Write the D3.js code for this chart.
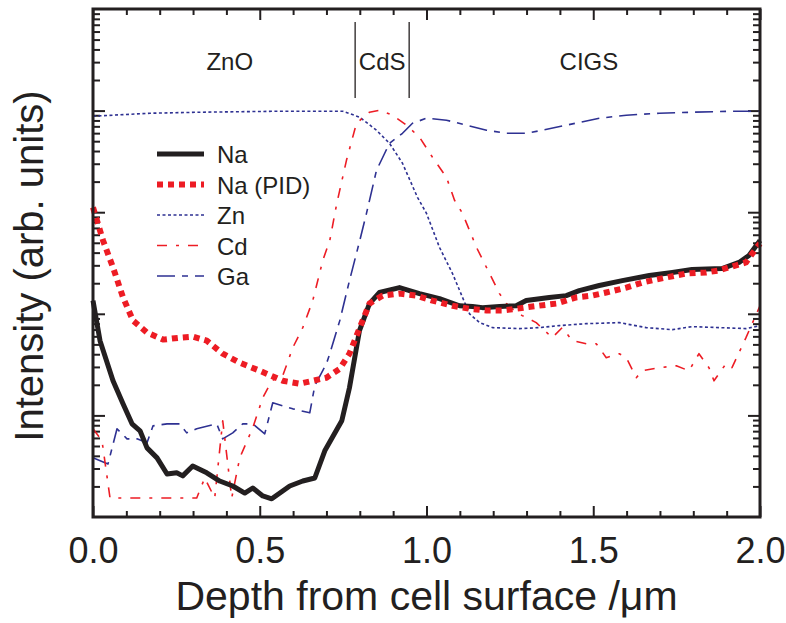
<!DOCTYPE html>
<html>
<head>
<meta charset="utf-8">
<script src="https://cdn.jsdelivr.net/npm/d3@7"></script>
<style>
  body { margin: 0; background: #fff; }
  text { font-family: "Liberation Sans", Arial, Helvetica, sans-serif; fill: #231f20; }
</style>
</head>
<body>
<div id="chart"></div>
<script>
// depth (um) and intensity (arb. units)
const naX = [0, 0.021, 0.06, 0.09, 0.117, 0.141, 0.162, 0.192, 0.222, 0.251, 0.269, 0.299, 0.341, 0.38, 0.419, 0.455, 0.479, 0.509, 0.536, 0.59, 0.629, 0.665, 0.695, 0.746, 0.769, 0.799, 0.829, 0.859, 0.919, 0.979, 1.039, 1.099, 1.138, 1.168, 1.219, 1.269, 1.299, 1.368, 1.419, 1.458, 1.518, 1.587, 1.668, 1.737, 1.796, 1.886, 1.937, 1.967, 2.0];
const naY = [135, 54.4, 21.9, 13.0, 8.26, 7.05, 4.79, 3.82, 2.65, 2.72, 2.54, 3.18, 2.72, 2.26, 2.02, 1.72, 1.93, 1.61, 1.51, 2.02, 2.26, 2.42, 4.48, 8.85, 18.7, 68.3, 126, 162, 181, 158, 141, 120, 118, 115, 118, 120, 135, 145, 151, 169, 190, 212, 238, 255, 273, 279, 320, 375, 527];

const pidX = [0, 0.03, 0.06, 0.09, 0.12, 0.162, 0.21, 0.26, 0.3, 0.341, 0.389, 0.44, 0.5, 0.569, 0.62, 0.659, 0.7, 0.74, 0.769, 0.8, 0.829, 0.868, 0.919, 0.97, 1.018, 1.078, 1.129, 1.18, 1.228, 1.269, 1.317, 1.389, 1.449, 1.497, 1.539, 1.599, 1.647, 1.719, 1.778, 1.838, 1.877, 1.916, 1.958, 1.988, 2.0];
const pidY = [1115, 527, 286, 145, 85.7, 65.3, 55.7, 58.2, 59.6, 54.4, 40.5, 33.0, 27.5, 21.9, 20.5, 21.9, 23.5, 28.8, 40.5, 73.1, 126, 151, 158, 151, 135, 120, 112, 108, 108, 112, 118, 126, 145, 151, 162, 181, 203, 228, 249, 255, 267, 292, 320, 440, 492];

const znX = [0, 0.171, 0.32, 0.56, 0.749, 0.8, 0.85, 0.889, 0.928, 0.973, 1.0, 1.039, 1.078, 1.108, 1.129, 1.159, 1.198, 1.278, 1.338, 1.398, 1.479, 1.578, 1.659, 1.737, 1.796, 1.877, 1.958, 2.0];
const znY = [8810, 9420, 9640, 9860, 9860, 8610, 6410, 4770, 3030, 1400, 973, 450, 249, 145, 100, 81.9, 73.1, 71.5, 73.1, 76.5, 80.0, 81.9, 73.1, 69.8, 74.8, 73.1, 71.5, 76.5];

const cdX = [0, 0.027, 0.051, 0.311, 0.335, 0.365, 0.389, 0.416, 0.44, 0.479, 0.509, 0.536, 0.569, 0.599, 0.629, 0.659, 0.689, 0.71, 0.731, 0.76, 0.79, 0.829, 0.859, 0.898, 0.94, 0.979, 1.018, 1.06, 1.084, 1.108, 1.15, 1.189, 1.219, 1.24, 1.257, 1.287, 1.329, 1.377, 1.407, 1.437, 1.479, 1.509, 1.539, 1.578, 1.599, 1.629, 1.647, 1.698, 1.749, 1.787, 1.817, 1.847, 1.862, 1.898, 1.916, 1.958, 2.0];
const cdY = [7.38, 5.62, 1.54, 1.54, 2.42, 1.54, 8.85, 1.54, 3.82, 7.55, 14.9, 21.9, 24.6, 46.4, 73.1, 135, 335, 527, 1220, 3240, 7510, 9640, 10090, 9010, 7180, 5470, 3470, 2200, 1310, 973, 450, 249, 158, 126, 112, 96.0, 81.9, 58.2, 73.1, 54.4, 50.8, 50.8, 37.0, 40.5, 37.0, 23.5, 27.5, 29.5, 30.8, 27.5, 40.5, 29.5, 21.9, 32.3, 29.5, 58.2, 120];

const gaX = [0, 0.045, 0.072, 0.102, 0.132, 0.162, 0.18, 0.222, 0.26, 0.281, 0.311, 0.371, 0.389, 0.419, 0.449, 0.479, 0.515, 0.539, 0.569, 0.599, 0.65, 0.665, 0.7, 0.71, 0.74, 0.769, 0.8, 0.82, 0.85, 0.889, 0.928, 0.958, 1.0, 1.06, 1.12, 1.18, 1.24, 1.299, 1.347, 1.419, 1.518, 1.599, 1.698, 1.796, 1.916, 2.0];
const gaY = [3.82, 3.33, 7.38, 5.88, 5.88, 5.37, 7.89, 8.26, 8.26, 6.73, 7.38, 8.26, 5.88, 6.73, 8.26, 8.26, 6.59, 13.3, 12.4, 11.6, 10.6, 19.6, 32.3, 40.5, 85.7, 212, 527, 973, 2580, 4770, 5980, 7510, 8410, 8040, 7180, 6410, 5980, 5980, 6410, 7180, 8410, 9010, 9420, 9640, 9860, 9860];

const xTicks = [0, 0.5, 1.0, 1.5, 2.0];
const yMajor = [10, 100, 1000, 10000];

const layerBounds = [0.786, 0.948];
const layerNames = ["ZnO", "CdS", "CIGS"];
const layerCenters = [0.41, 0.867, 1.487];

const series = [
  {name: "Na", x: naX, y: naY, color: "#231f20", width: 5, dash: null},
  {name: "Na (PID)", x: pidX, y: pidY, color: "#ed1c24", width: 6, dash: "6,5"},
  {name: "Zn", x: znX, y: znY, color: "#2e3192", width: 1.6, dash: "3,2.5"},
  {name: "Cd", x: cdX, y: cdY, color: "#ed1c24", width: 1.6, dash: "10,9,3,9"},
  {name: "Ga", x: gaX, y: gaY, color: "#2e3192", width: 1.6, dash: "18,7,6,7"}
];

const width = 786, height = 623;
const margin = {top: 9, right: 26, bottom: 106, left: 93};
const innerWidth = width - margin.left - margin.right;
const innerHeight = height - margin.top - margin.bottom;

const svg = d3.select("#chart").append("svg")
  .attr("width", width)
  .attr("height", height);

const g = svg.append("g")
  .attr("transform", "translate(" + margin.left + "," + margin.top + ")");

const xScale = d3.scaleLinear().domain([0, 2]).range([0, innerWidth]);
const yScale = d3.scaleLog().domain([1, 1e5]).range([innerHeight, 0]);

// minor tick values
const xMinor = d3.range(0, 2.0001, 0.1).filter(v => Math.abs(v * 2 - Math.round(v * 2)) > 1e-6);
const yMinor = [];
[1, 10, 100, 1000, 10000].forEach(d => {
  for (let k = 2; k <= 9; k++) yMinor.push(d * k);
});

function styleAxis(sel) {
  sel.select(".domain").remove();
  sel.selectAll(".tick line").attr("stroke", "#231f20").attr("stroke-width", 2);
}
function tickOnly(sel) {
  styleAxis(sel);
  sel.selectAll(".tick text").remove();
}

// x axes: bottom with labels, top mirrored
g.append("g").attr("transform", "translate(0," + innerHeight + ")")
  .call(d3.axisBottom(xScale).tickValues(xTicks).tickSize(-11).tickPadding(20).tickFormat(d3.format(".1f")))
  .call(styleAxis)
  .selectAll("text").attr("font-size", 36).attr("fill", "#231f20");
g.append("g").attr("transform", "translate(0," + innerHeight + ")")
  .call(d3.axisBottom(xScale).tickValues(xMinor).tickSize(-6))
  .call(tickOnly);
g.append("g")
  .call(d3.axisTop(xScale).tickValues(xTicks).tickSize(-11))
  .call(tickOnly);
g.append("g")
  .call(d3.axisTop(xScale).tickValues(xMinor).tickSize(-6))
  .call(tickOnly);

// y axes: log, no labels, ticks on both sides
g.append("g")
  .call(d3.axisLeft(yScale).tickValues(yMajor).tickSize(-12))
  .call(tickOnly);
g.append("g")
  .call(d3.axisLeft(yScale).tickValues(yMinor).tickSize(-7))
  .call(tickOnly);
g.append("g").attr("transform", "translate(" + innerWidth + ",0)")
  .call(d3.axisRight(yScale).tickValues(yMajor).tickSize(-12))
  .call(tickOnly);
g.append("g").attr("transform", "translate(" + innerWidth + ",0)")
  .call(d3.axisRight(yScale).tickValues(yMinor).tickSize(-7))
  .call(tickOnly);

// layer annotations
g.selectAll(".bound")
  .data(layerBounds)
  .join("line")
  .attr("class", "bound")
  .attr("x1", d => xScale(d)).attr("x2", d => xScale(d))
  .attr("y1", 13).attr("y2", 89)
  .attr("stroke", "#231f20").attr("stroke-width", 1.3);

g.selectAll(".layer")
  .data(layerNames)
  .join("text")
  .attr("class", "layer")
  .attr("x", (d, i) => xScale(layerCenters[i]))
  .attr("y", 61)
  .attr("text-anchor", "middle")
  .attr("font-size", 24)
  .text(d => d);

// series lines
const line = d3.line()
  .x(d => xScale(d[0]))
  .y(d => yScale(d[1]));

const drawOrder = [2, 4, 3, 0, 1];
drawOrder.forEach(i => {
  const s = series[i];
  g.append("path")
    .datum(s.x.map((v, j) => [v, s.y[j]]))
    .attr("fill", "none")
    .attr("stroke", s.color)
    .attr("stroke-width", s.width)
    .attr("stroke-linejoin", "round")
    .attr("stroke-dasharray", s.dash)
    .attr("d", line);
});

// frame
g.append("rect")
  .attr("width", innerWidth)
  .attr("height", innerHeight)
  .attr("fill", "none")
  .attr("stroke", "#231f20")
  .attr("stroke-width", 3);

// legend
const legend = g.append("g").attr("transform", "translate(64,145)");
const rows = legend.selectAll("g")
  .data(series)
  .join("g")
  .attr("transform", (d, i) => "translate(0," + i * 30.5 + ")");
rows.append("line")
  .attr("x1", 0).attr("x2", 47)
  .attr("stroke", d => d.color)
  .attr("stroke-width", d => d.width)
  .attr("stroke-dasharray", d => d.dash);
rows.append("text")
  .attr("x", 60)
  .attr("y", 9)
  .attr("font-size", 24)
  .text(d => d.name);

// axis titles
svg.append("text")
  .attr("x", margin.left + innerWidth / 2)
  .attr("y", 610)
  .attr("text-anchor", "middle")
  .attr("font-size", 41)
  .text("Depth from cell surface /\u03bcm");

svg.append("text")
  .attr("transform", "translate(43,266) rotate(-90)")
  .attr("text-anchor", "middle")
  .attr("font-size", 40)
  .text("Intensity (arb. units)");
</script>
</body>
</html>
